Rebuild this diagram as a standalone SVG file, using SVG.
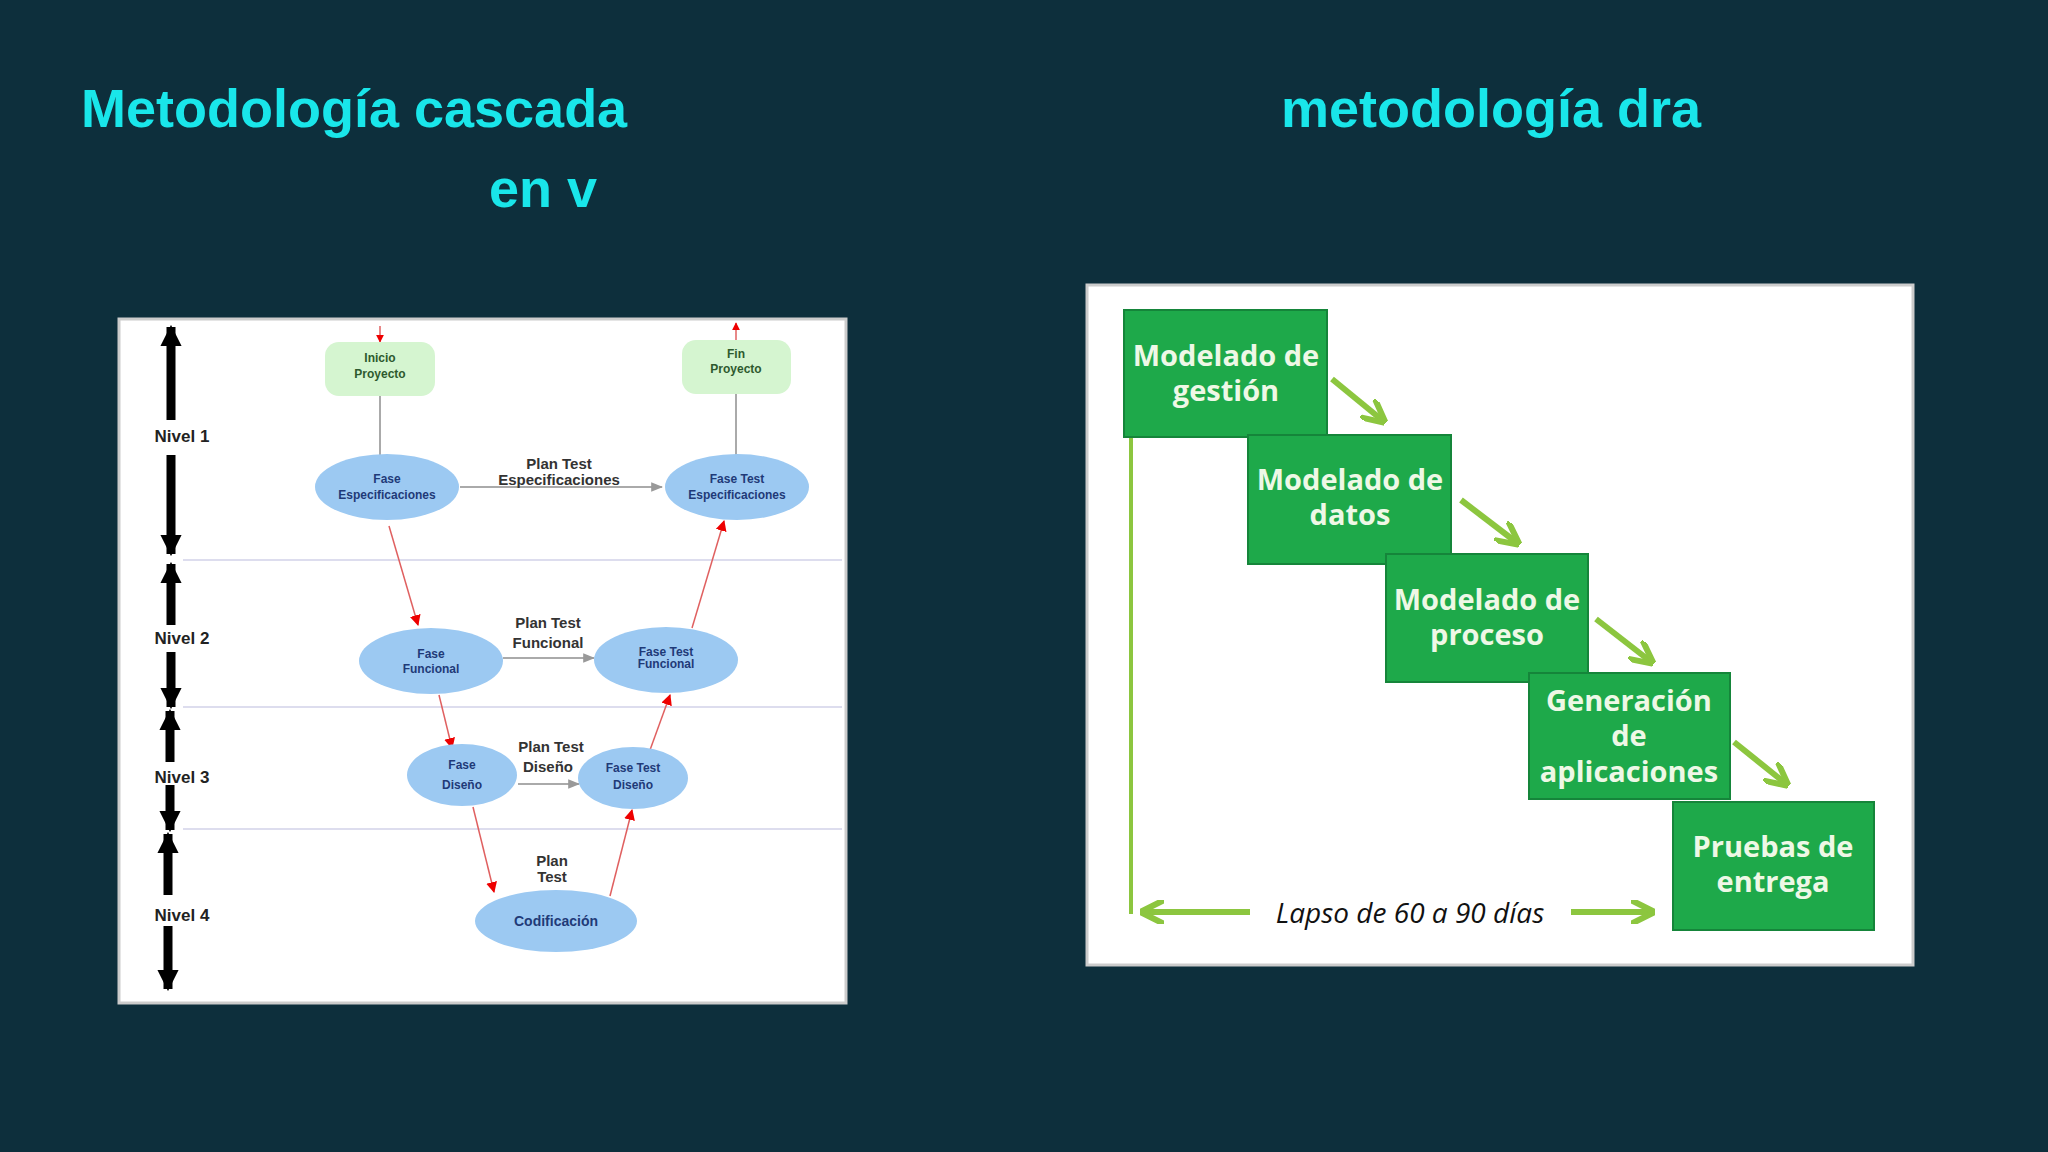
<svg xmlns="http://www.w3.org/2000/svg" width="2048" height="1152" viewBox="0 0 2048 1152">
<style>
.title{font-family:"Liberation Sans",Arial,sans-serif;font-weight:bold;font-size:54px;fill:#19e6ea}
.niv{font-family:"Liberation Sans",Arial,sans-serif;font-weight:bold;font-size:17px;fill:#222;text-anchor:middle}
.nt{font-family:"Liberation Sans",Arial,sans-serif;font-weight:bold;font-size:12px;fill:#1f3a78;text-anchor:middle}
.gt{font-family:"Liberation Sans",Arial,sans-serif;font-weight:bold;font-size:12px;fill:#2e5a2e;text-anchor:middle}
.pl{font-family:"Liberation Sans",Arial,sans-serif;font-weight:bold;font-size:15px;fill:#333;text-anchor:middle}
.ell{fill:#9cc9f2}
.lvl{stroke:#dde;stroke-width:2}
.blk{stroke:#000;stroke-width:9;marker-end:url(#bk)}
.red{stroke:#e06060;stroke-width:1.5;marker-end:url(#rd)}
.gry{stroke:#aaa;stroke-width:2;marker-end:url(#gy)}
.box{fill:#1ea94a;stroke:#15853a;stroke-width:2}
.bt{font-family:"Open Sans","Liberation Sans",sans-serif;font-weight:bold;font-size:29px;fill:#eef8e6;text-anchor:middle}
.ga{stroke:#8cc63f;stroke-width:6;marker-end:url(#gr)}
</style>
<defs>
<marker id="bk" viewBox="0 0 10 10" refX="9" refY="5" markerWidth="2.4" markerHeight="2.4" orient="auto"><path d="M0,0L10,5L0,10z" fill="#000"/></marker>
<marker id="rd" viewBox="0 0 10 10" refX="9" refY="5" markerWidth="11" markerHeight="11" markerUnits="userSpaceOnUse" orient="auto"><path d="M0,0L10,5L0,10z" fill="#e00"/></marker>
<marker id="rds" viewBox="0 0 10 10" refX="9" refY="5" markerWidth="8" markerHeight="8" markerUnits="userSpaceOnUse" orient="auto"><path d="M0,0L10,5L0,10z" fill="#e00"/></marker>
<marker id="gy" viewBox="0 0 10 10" refX="9" refY="5" markerWidth="12" markerHeight="12" markerUnits="userSpaceOnUse" orient="auto"><path d="M0,1L10,5L0,9z" fill="#999"/></marker>
<marker id="gr" viewBox="0 0 10 10" refX="8" refY="5" markerWidth="4" markerHeight="4" orient="auto"><path d="M0,0L10,5L0,10" fill="none" stroke="#8cc63f" stroke-width="2.5"/></marker>
</defs>
<rect width="2048" height="1152" fill="#0d2f3c"/>
<text class="title" x="81" y="127">Metodología cascada</text>
<text class="title" x="489" y="207">en v</text>
<text class="title" x="1281" y="127">metodología  dra</text>

<g id="left-panel">
<rect x="119" y="319" width="727" height="684" fill="#fff" stroke="#ccc" stroke-width="3"/>
<line class="lvl" x1="183" y1="560" x2="842" y2="560"/>
<line class="lvl" x1="183" y1="707" x2="842" y2="707"/>
<line class="lvl" x1="183" y1="829" x2="842" y2="829"/>
</g>
<g id="levels">
<line class="blk" x1="171" y1="420" x2="171" y2="327"/><line class="blk" x1="171" y1="455" x2="171" y2="554"/>
<text class="niv" x="182" y="442">Nivel 1</text>
<line class="blk" x1="171" y1="625" x2="171" y2="564"/><line class="blk" x1="171" y1="652" x2="171" y2="707"/>
<text class="niv" x="182" y="644">Nivel 2</text>
<line class="blk" x1="170" y1="762" x2="170" y2="711"/><line class="blk" x1="170" y1="785" x2="170" y2="830"/>
<text class="niv" x="182" y="783">Nivel 3</text>
<line class="blk" x1="168" y1="895" x2="168" y2="834"/><line class="blk" x1="168" y1="926" x2="168" y2="989"/>
<text class="niv" x="182" y="921">Nivel 4</text>
</g>
<g id="connectors-left">
<line x1="380" y1="326" x2="380" y2="342" stroke="#e06060" stroke-width="1.5" marker-end="url(#rds)"/>
<line x1="380" y1="396" x2="380" y2="455" stroke="#aaa" stroke-width="2"/>
<line x1="736" y1="394" x2="736" y2="455" stroke="#aaa" stroke-width="2"/>
<line x1="736" y1="340" x2="736" y2="323" stroke="#e06060" stroke-width="1.5" marker-end="url(#rds)"/>
<line class="gry" x1="460" y1="487" x2="662" y2="487"/>
<line class="gry" x1="503" y1="658" x2="594" y2="658"/>
<line class="gry" x1="518" y1="784" x2="579" y2="784"/>
<line class="red" x1="389" y1="526" x2="418" y2="625"/>
<line class="red" x1="439" y1="695" x2="452" y2="748"/>
<line class="red" x1="473" y1="807" x2="494" y2="892"/>
<line class="red" x1="610" y1="896" x2="632" y2="810"/>
<line class="red" x1="650" y1="750" x2="670" y2="695"/>
<line class="red" x1="692" y1="628" x2="724" y2="521"/>
<text class="pl" x="559" y="469">Plan  Test</text><text class="pl" x="559" y="485">Especificaciones</text>
<text class="pl" x="548" y="628">Plan Test</text><text class="pl" x="548" y="648">Funcional</text>
<text class="pl" x="551" y="752">Plan Test</text><text class="pl" x="548" y="772">Diseño</text>
<text class="pl" x="552" y="866">Plan</text><text class="pl" x="552" y="882">Test</text>
</g>
<g id="inicio"><rect x="325" y="342" width="110" height="54" rx="14" fill="#d5f5d0"/><text class="gt" x="380" y="362">Inicio</text><text class="gt" x="380" y="378">Proyecto</text></g>
<g id="fin"><rect x="682" y="340" width="109" height="54" rx="14" fill="#d5f5d0"/><text class="gt" x="736" y="358">Fin</text><text class="gt" x="736" y="373">Proyecto</text></g>
<g id="fase-esp"><ellipse class="ell" cx="387" cy="487" rx="72" ry="33"/><text class="nt" x="387" y="483">Fase</text><text class="nt" x="387" y="499">Especificaciones</text></g>
<g id="test-esp"><ellipse class="ell" cx="737" cy="487" rx="72" ry="33"/><text class="nt" x="737" y="483">Fase Test</text><text class="nt" x="737" y="499">Especificaciones</text></g>
<g id="fase-func"><ellipse class="ell" cx="431" cy="661" rx="72" ry="33"/><text class="nt" x="431" y="658">Fase</text><text class="nt" x="431" y="673">Funcional</text></g>
<g id="test-func"><ellipse class="ell" cx="666" cy="660" rx="72" ry="33"/><text class="nt" x="666" y="656">Fase Test</text><text class="nt" x="666" y="668">Funcional</text></g>
<g id="fase-dis"><ellipse class="ell" cx="462" cy="775" rx="55" ry="31"/><text class="nt" x="462" y="769">Fase</text><text class="nt" x="462" y="789">Diseño</text></g>
<g id="test-dis"><ellipse class="ell" cx="633" cy="778" rx="55" ry="31"/><text class="nt" x="633" y="772">Fase Test</text><text class="nt" x="633" y="789">Diseño</text></g>
<g id="codif"><ellipse class="ell" cx="556" cy="921" rx="81" ry="31"/><text class="nt" x="556" y="926" style="font-size:14px">Codificación</text></g>

<g id="right-panel"><rect x="1087" y="285" width="826" height="680" fill="#fff" stroke="#ccc" stroke-width="3"/></g>
<g id="connectors-right">
<line class="ga" x1="1332" y1="379" x2="1382" y2="420"/>
<line class="ga" x1="1461" y1="500" x2="1516" y2="542"/>
<line class="ga" x1="1596" y1="619" x2="1650" y2="661"/>
<line class="ga" x1="1734" y1="742" x2="1785" y2="783"/>
<line x1="1131" y1="437" x2="1131" y2="914" stroke="#8cc63f" stroke-width="4"/>
<line class="ga" x1="1250" y1="912" x2="1145" y2="912"/>
<line class="ga" x1="1571" y1="912" x2="1650" y2="912"/>
<text x="1410" y="923" style="font-family:'Open Sans','Liberation Sans',sans-serif;font-style:italic;font-size:28px;fill:#111;text-anchor:middle">Lapso de 60 a 90 días</text>
</g>
<g id="b1"><rect class="box" x="1124" y="310" width="203" height="127"/><text class="bt" x="1226" y="366">Modelado de</text><text class="bt" x="1226" y="401">gestión</text></g>
<g id="b2"><rect class="box" x="1248" y="435" width="203" height="129"/><text class="bt" x="1350" y="490">Modelado de</text><text class="bt" x="1350" y="525">datos</text></g>
<g id="b3"><rect class="box" x="1386" y="554" width="202" height="128"/><text class="bt" x="1487" y="610">Modelado de</text><text class="bt" x="1487" y="645">proceso</text></g>
<g id="b4"><rect class="box" x="1529" y="673" width="201" height="126"/><text class="bt" x="1629" y="711">Generación</text><text class="bt" x="1629" y="746">de</text><text class="bt" x="1629" y="782">aplicaciones</text></g>
<g id="b5"><rect class="box" x="1673" y="802" width="201" height="128"/><text class="bt" x="1773" y="857">Pruebas de</text><text class="bt" x="1773" y="892">entrega</text></g>
</svg>
